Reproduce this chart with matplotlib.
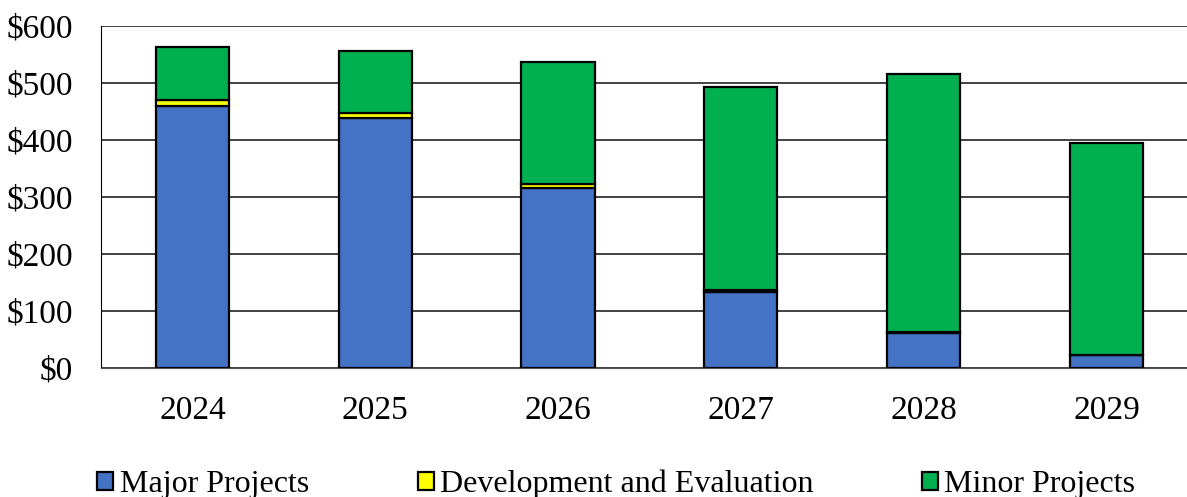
import matplotlib.pyplot as plt
import numpy as np

years = ['2024', '2025', '2026', '2027', '2028', '2029']
major = [460, 439, 316, 133, 62, 22]
dev_eval = [10, 8, 6, 3, 1, 0]
minor = [93, 109, 215, 357, 453, 373]

plt.rcParams['font.family'] = ['Liberation Serif', 'DejaVu Serif']

fig = plt.figure(figsize=(11.87, 4.97), dpi=100)
ax = fig.add_axes([0.0851, 0.2596, 0.924, 0.688])

x = np.arange(len(years))
w = 0.4
major = np.array(major)
dev_eval = np.array(dev_eval)
minor = np.array(minor)

ax.bar(x, major, w, color='#4472C4', edgecolor='black', linewidth=1.6, label='Major Projects', zorder=3)
ax.bar(x, dev_eval, w, bottom=major, color='#FFFF00', edgecolor='black', linewidth=1.6,
       label='Development and Evaluation', zorder=3)
ax.bar(x, minor, w, bottom=major + dev_eval, color='#00B050', edgecolor='black', linewidth=1.6,
       label='Minor Projects', zorder=3)

ax.set_xlim(-0.5, 5.5)
ax.set_ylim(0, 600)
ax.set_yticks(range(0, 601, 100))
ax.set_yticklabels(['$' + str(v) for v in range(0, 601, 100)])
ax.set_xticks(x)
ax.set_xticklabels(years)
ax.tick_params(axis='both', length=0, labelsize=24)
ax.tick_params(axis='x', pad=20)
ax.tick_params(axis='y', pad=20)
ax.yaxis.grid(True, color='#222222', linewidth=1.2, zorder=0)
for s in ['top', 'right']:
    ax.spines[s].set_visible(False)
ax.spines['left'].set_color('black')
ax.spines['bottom'].set_color('#555555')

fig.legend(loc='center left', bbox_to_anchor=(0.082, 0.025), ncol=3, frameon=False,
           fontsize=23, handlelength=0.5, handleheight=0.5, handletextpad=0.2,
           columnspacing=3.4, borderpad=0, borderaxespad=0)

fig.savefig('out.png', dpi=100)
